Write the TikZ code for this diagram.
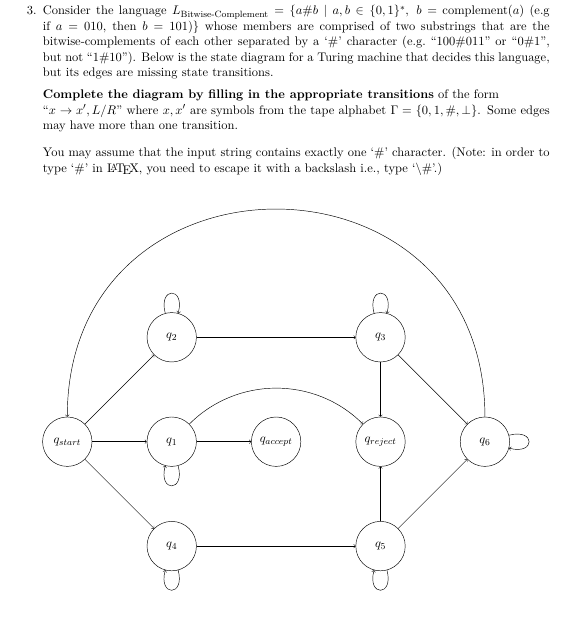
\documentclass[tikz,border=0pt]{standalone}
\usepackage{amsmath}
\begin{document}
\begin{tikzpicture}[
        tmstate/.style={circle, draw=black, minimum size=1.525cm, inner sep=0pt, font=\fontsize{10.95}{13.6}\selectfont},
        para/.style={anchor=base west, inner sep=0pt, text width=445pt, align=justify, font=\fontsize{10.95}{13.6}\selectfont},
        every loop/.append style={looseness=5.5}
    ]
        \useasboundingbox (-2.077,-5.410) rectangle (15.421,13.631);

        % question text
        \node[anchor=base west, inner sep=0pt, font=\fontsize{10.95}{13.6}\selectfont] (qnum) at (-1.253,13.168) {3.};
        \node[para] (intro) at (-0.759,13.168) {Consider the language $L_{\text{Bitwise-Complement}} = \{a\#b \mid a, b \in \{0,1\}^*,\ b = \text{complement}(a)$ (e.g\linebreak if $a = 010$, then $b = 101)\}$ whose members are comprised of two substrings that are the\linebreak bitwise-complements of each other separated by a `\#' character (e.g.\ ``100\#011'' or ``0\#1'', but not ``1\#10''). Below is the state diagram for a Turing machine that decides this language, but its edges are missing state transitions.};
        \node[para] (task) at (-0.759,10.585) {\textbf{Complete the diagram by filling in the appropriate transitions} of the form\\ ``$x \rightarrow x', L/R$'' where $x, x'$ are symbols from the tape alphabet $\Gamma = \{0, 1, \#, \perp\}$. Some edges may have more than one transition.};
        \node[para] (note) at (-0.759,8.795) {You may assume that the input string contains exactly one `\#' character. (Note: in order to type `\#' in \LaTeX, you need to escape it with a backslash i.e., type `\textbackslash\#'.)};

        % states
        \node[tmstate] (qstart) at (0,0) {$q_{start}$};
        \node[tmstate] (q1) at (3.222,0) {$q_1$};
        \node[tmstate] (qaccept) at (6.444,0) {$q_{accept}$};
        \node[tmstate] (qreject) at (9.666,0) {$q_{reject}$};
        \node[tmstate] (q6) at (12.888,0) {$q_6$};
        \node[tmstate] (q2) at (3.222,3.222) {$q_2$};
        \node[tmstate] (q3) at (9.666,3.222) {$q_3$};
        \node[tmstate] (q4) at (3.222,-3.222) {$q_4$};
        \node[tmstate] (q5) at (9.666,-3.222) {$q_5$};

        % transitions
        \draw[->] (qstart) -- (q1);
        \draw[->] (qstart) -- (q2);
        \draw[->] (qstart) -- (q4);
        \draw[->] (q1) -- (qaccept);
        \draw[->] (q1) to[bend left=45] (qreject);
        \draw[->] (q2) -- (q3);
        \draw[->] (q3) -- (qreject);
        \draw[->] (q3) -- (q6);
        \draw[->] (q4) -- (q5);
        \draw[->] (q5) -- (qreject);
        \draw[->] (q5) -- (q6);
        \draw[->] (q6) to[out=90, in=90, looseness=1.7] (qstart);

        % loops
        \draw[->] (q2) to[loop above] (q2);
        \draw[->] (q3) to[loop above] (q3);
        \draw[->] (q1) to[loop below] (q1);
        \draw[->] (q4) to[loop below] (q4);
        \draw[->] (q5) to[loop below] (q5);
        \draw[->] (q6) to[loop right] (q6);
    \end{tikzpicture}
\end{document}
